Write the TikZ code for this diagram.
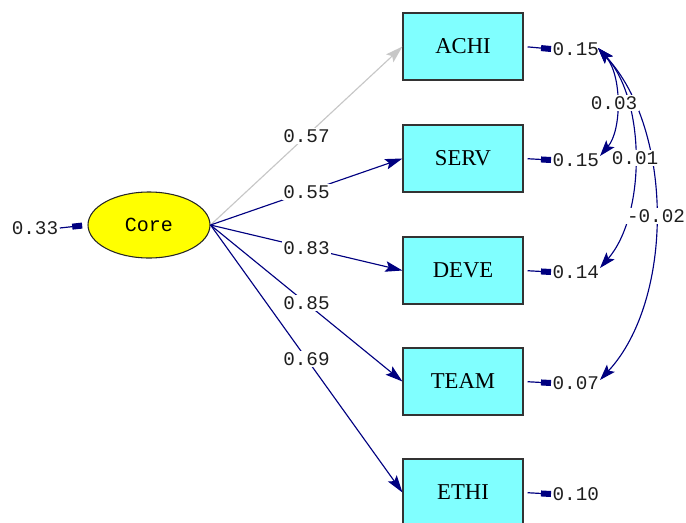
\documentclass[tikz,border=0pt]{standalone}
\usepackage{fontspec}
\setmainfont{Liberation Serif}
\setmonofont{Liberation Mono}
\usetikzlibrary{arrows.meta,shapes.geometric}
\definecolor{navy}{HTML}{000080}
\definecolor{boxcyan}{HTML}{80FFFF}
\definecolor{coreyellow}{HTML}{FFFF00}
\definecolor{numtext}{HTML}{1E1E1E}
\begin{document}
\begin{tikzpicture}[x=0.75pt,y=-0.75pt,
  observed/.style={draw=black!80, line width=0.8pt, fill=boxcyan, minimum width=90pt,
    minimum height=50.25pt, inner sep=0pt, font=\fontsize{17}{20}\selectfont},
  latent/.style={ellipse, draw=black!85, line width=0.8pt, fill=coreyellow, minimum width=91.5pt,
    minimum height=49.5pt, inner sep=0pt, font=\ttfamily\fontsize{15}{16}\selectfont},
  num/.style={font=\ttfamily\fontsize{14.5}{16}\selectfont, text=numtext, inner sep=1pt},
  coef/.style={num, fill=white},
  loading/.style={draw=navy, line width=0.85pt, -{Stealth[length=13pt,width=8pt,inset=2.5pt]}},
  weakloading/.style={loading, draw=black!22, fill=black!22},
  errtip/.style={draw=navy, line width=0.9pt, -{Rectangle[length=7.5pt,width=4.5pt]}},
  cov/.style={draw=navy, line width=0.85pt,
    {Stealth[length=12pt,width=8pt,inset=2.5pt]}-{Stealth[length=12pt,width=8pt,inset=2.5pt]}}
]
\useasboundingbox (0,0) rectangle (686,522);
\clip (0,0) rectangle (686,522);

% latent factor and its residual
\node[latent] (core) at (149,225) {Core};
\node[num] (e0) at (35,228) {0.33};
\draw[errtip, shorten >=4pt] (e0.east) -- (core.west);

% indicators
\node[observed] (achi) at (463,46.5) {ACHI};
\node[observed] (serv) at (463,158.5) {SERV};
\node[observed] (deve) at (463,270.5) {DEVE};
\node[observed] (team) at (463,381.5) {TEAM};
\node[observed] (ethi) at (463,492.5) {ETHI};

% residual variances of the indicators
\node[num, anchor=west] (e1) at (551,49) {0.15};
\node[num, anchor=west] (e2) at (551,160) {0.15};
\node[num, anchor=west] (e3) at (551,272) {0.14};
\node[num, anchor=west] (e4) at (551,383) {0.07};
\node[num, anchor=west] (e5) at (551,494) {0.10};
\foreach \v/\e in {achi/e1, serv/e2, deve/e3, team/e4, ethi/e5}
  \draw[errtip, shorten <=3pt] (\v.east) -- (\e.west);

% factor loadings
\draw[weakloading] (core.east) -- (achi.west) node[coef, midway] {0.57};
\draw[loading] (core.east) -- (serv.west) node[coef, midway] {0.55};
\draw[loading] (core.east) -- (deve.west) node[coef, midway] {0.83};
\draw[loading] (core.east) -- (team.west) node[coef, midway] {0.85};
\draw[loading] (core.east) -- (ethi.west) node[coef, midway] {0.69};

% error covariances
\coordinate (c1) at (598,48);
\coordinate (c2) at (600,156);
\coordinate (c3) at (600,268);
\coordinate (c4) at (600,380);
\draw[cov] (c1) .. controls (646,100) and (646,215) .. (c3);
\draw[cov] (c1) .. controls (674,130) and (674,300) .. (c4);
\draw[cov] (c1) .. controls (622,75) and (622,130) .. (c2);
\node[coef] at (614,103) {0.03};
\node[coef] at (635,158) {0.01};
\node[coef] at (656,216) {-0.02};
\end{tikzpicture}
\end{document}
